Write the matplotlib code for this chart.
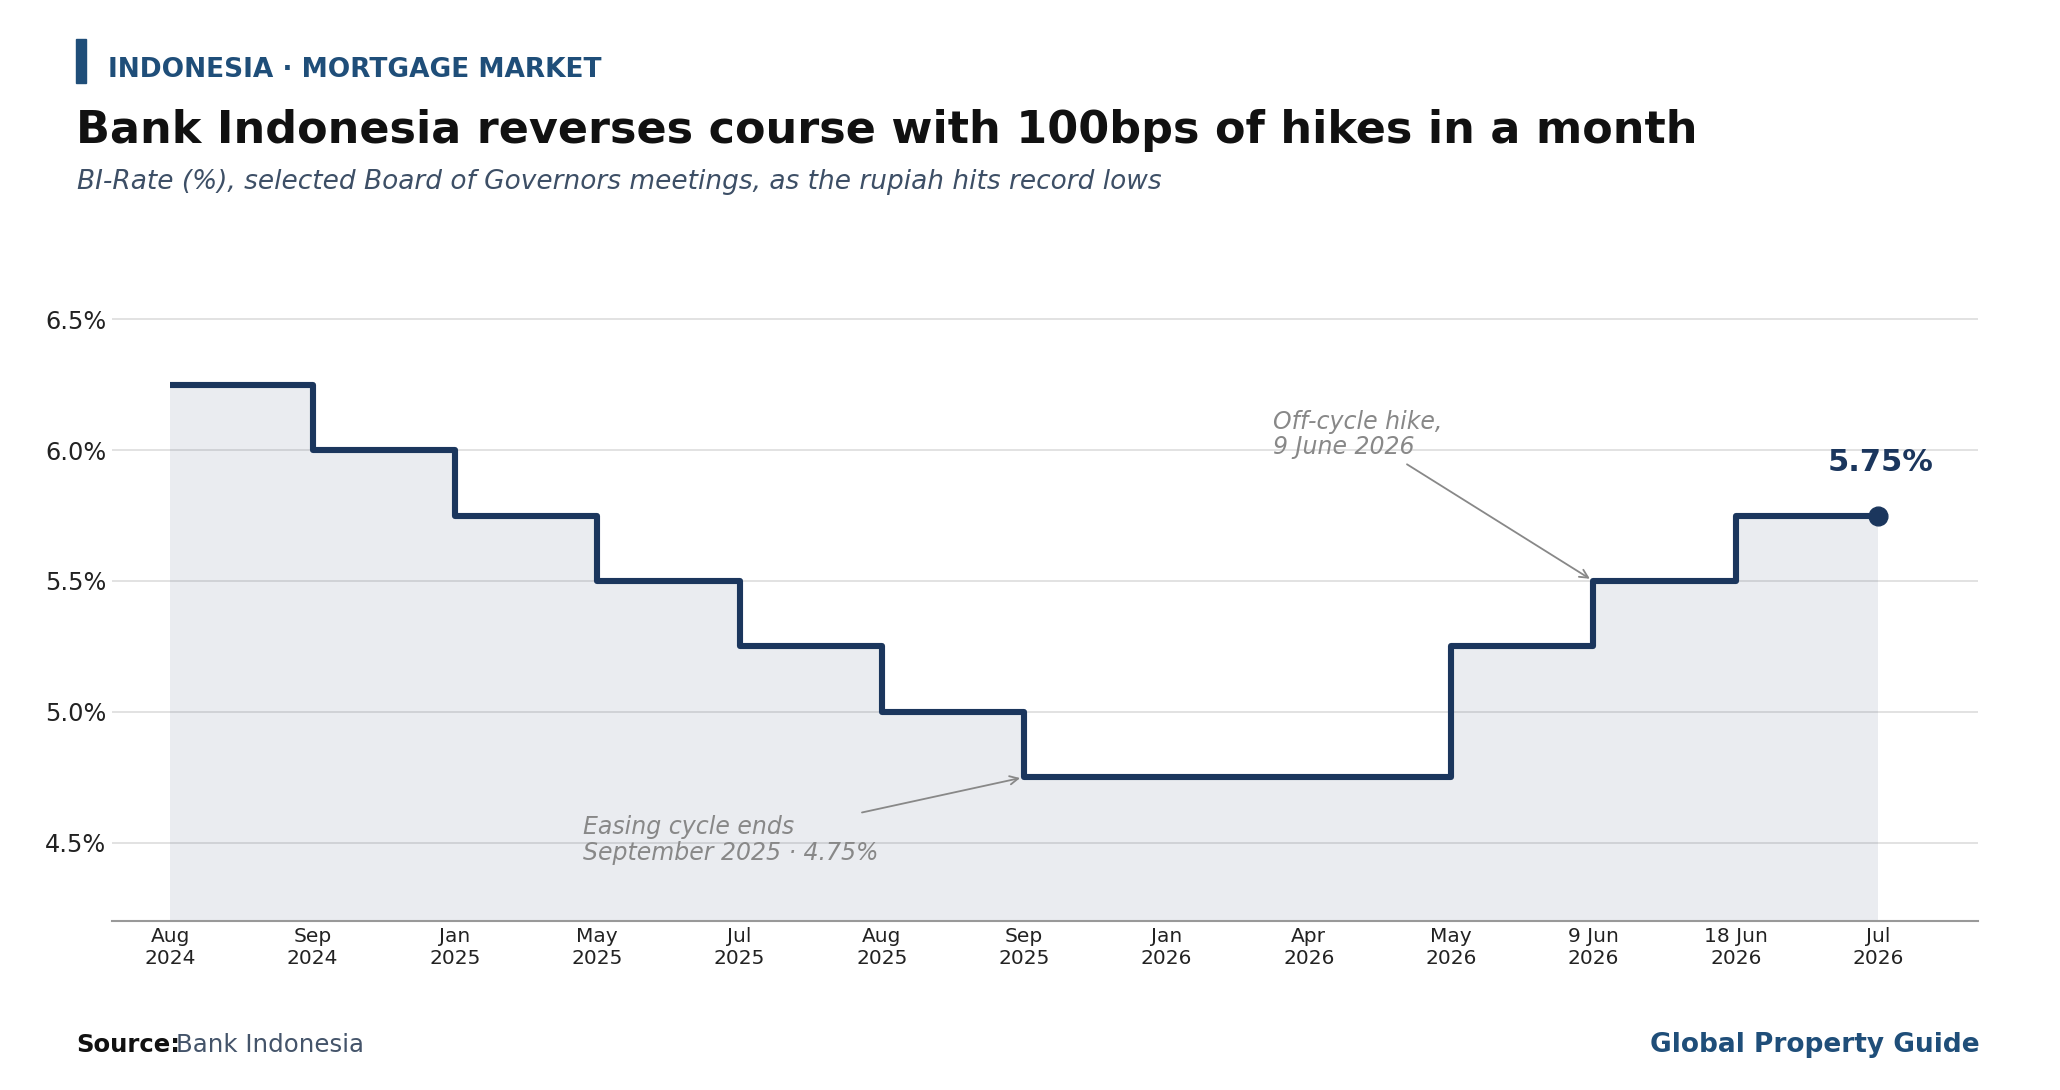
import numpy as np
import matplotlib.pyplot as plt
from matplotlib.patches import Rectangle
from matplotlib.ticker import FuncFormatter

# BI-Rate at selected Board of Governors meetings
meetings = ["Aug\n2024", "Sep\n2024", "Jan\n2025", "May\n2025", "Jul\n2025",
            "Aug\n2025", "Sep\n2025", "Jan\n2026", "Apr\n2026", "May\n2026",
            "9 Jun\n2026", "18 Jun\n2026", "Jul\n2026"]
rates = [6.25, 6.00, 5.75, 5.50, 5.25, 5.00, 4.75, 4.75, 4.75, 5.25, 5.50, 5.75, 5.75]
yticks = [4.5, 5.0, 5.5, 6.0, 6.5]

navy = "#1b365d"
blue = "#1f4e79"
grey = "#888888"

plt.rcParams['font.family'] = ['DejaVu Sans']

fig = plt.figure(figsize=(20.6, 10.9), dpi=100)
ax = fig.add_axes([0.0544, 0.155, 0.9056, 0.60])

x = np.arange(len(rates))
ax.fill_between(x, rates, 4.2, step="post", color=navy, alpha=0.09, linewidth=0)
ax.step(x, rates, where="post", color=navy, linewidth=4.4, solid_capstyle="butt")
ax.plot(x[-1], rates[-1], "o", color=navy, markersize=13.5)
ax.text(x[-1] + 0.02, rates[-1] + 0.17, "%.2f%%" % rates[-1], ha="center", va="baseline",
        fontsize=22, fontweight="bold", color=navy)

ax.set_xlim(-0.41, 12.7)
ax.set_ylim(4.2, 6.7)
ax.set_xticks(x)
ax.set_xticklabels(meetings, fontsize=14.5, color="#222222", linespacing=1.25)
ax.set_yticks(yticks)
ax.yaxis.set_major_formatter(FuncFormatter(lambda v, p: "%.1f%%" % v))
ax.tick_params(axis="y", labelsize=17.3, labelcolor="#222222", length=0, pad=4)
ax.tick_params(axis="x", length=0, pad=4)
ax.grid(axis="y", color="#dddddd", linewidth=1.2)
ax.set_axisbelow(True)
for side in ["top", "right", "left"]:
    ax.spines[side].set_visible(False)
ax.spines["bottom"].set_color("#999999")
ax.spines["bottom"].set_linewidth(1.5)

# annotations
ax.annotate("", xy=(6.0, 4.75), xytext=(4.86, 4.615),
            arrowprops=dict(arrowstyle="->", color=grey, lw=1.3, shrinkA=0, shrinkB=3,
                            mutation_scale=15))
ax.text(2.90, 4.51, "Easing cycle ends\nSeptember 2025 \u00b7 4.75%", ha="left", va="center",
        fontsize=17, style="italic", color=grey, linespacing=1.1)
ax.annotate("", xy=(10.0, 5.5), xytext=(8.69, 5.946),
            arrowprops=dict(arrowstyle="->", color=grey, lw=1.3, shrinkA=0, shrinkB=3,
                            mutation_scale=15))
ax.text(7.75, 6.06, "Off-cycle hike,\n9 June 2026", ha="left", va="center",
        fontsize=17, style="italic", color=grey, linespacing=1.1)

# header
fig.patches.append(Rectangle((0.0369, 0.9239), 0.0048, 0.0404, transform=fig.transFigure,
                             color=blue, figure=fig))
fig.text(0.0524, 0.9294, "INDONESIA \u00b7 MORTGAGE MARKET", fontsize=19, fontweight="bold",
         color=blue, va="baseline")
fig.text(0.0370, 0.8688, "Bank Indonesia reverses course with 100bps of hikes in a month",
         fontsize=32, fontweight="bold", color="#111111", va="baseline")
fig.text(0.0372, 0.8266, "BI-Rate (%), selected Board of Governors meetings, as the rupiah hits record lows",
         fontsize=19, style="italic", color="#3d4f66", va="baseline")

# footer
fig.text(0.0372, 0.0349, "Source:", fontsize=17.6, fontweight="bold", color="#111111", va="baseline")
fig.text(0.0855, 0.0349, "Bank Indonesia", fontsize=17.6, color="#44546a", va="baseline")
fig.text(0.9612, 0.0349, "Global Property Guide", fontsize=19, fontweight="bold", color=blue,
         ha="right", va="baseline")

fig.savefig("out.png", dpi=100, facecolor="white")
